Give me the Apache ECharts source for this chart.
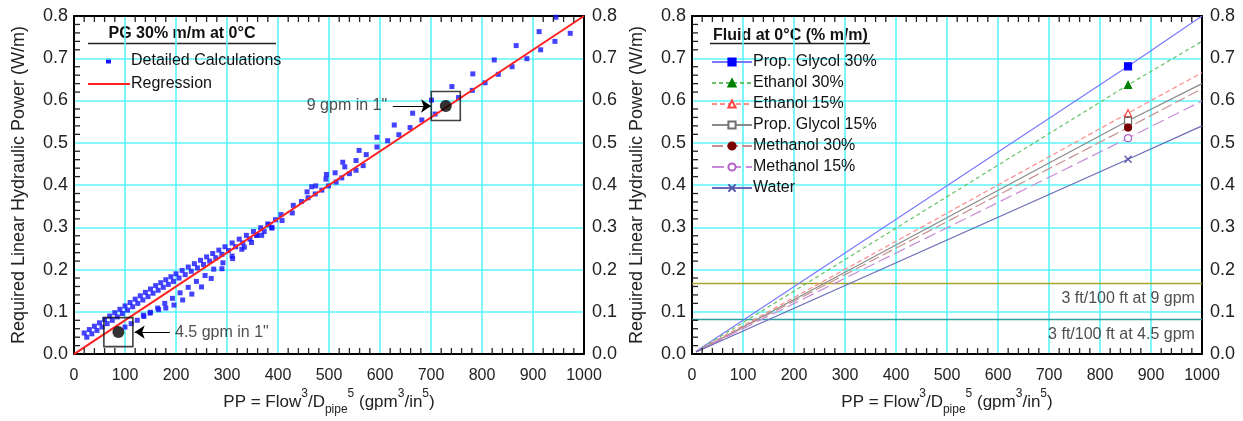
<!DOCTYPE html>
<html><head><meta charset="utf-8">
<script src="https://cdn.jsdelivr.net/npm/echarts@6/dist/echarts.min.js"></script>
<style>html,body{margin:0;padding:0;background:#fff}#c{width:1243px;height:421px}</style>
</head><body><div id="c"></div>
<script>
// ---------- DATA (left chart) ----------
const calcBandUpper = [[20,0.050],[30,0.058],[40,0.066],[50,0.074],[60,0.082],[70,0.090],[80,0.098],[90,0.106],[100,0.114],[110,0.122],[120,0.130],[130,0.138],[140,0.146],[150,0.154],[160,0.162],[170,0.169],[180,0.176],[190,0.183],[200,0.190],[212,0.198],[224,0.206],[236,0.214],[248,0.222],[260,0.230],[272,0.238],[284,0.246],[296,0.254],[310,0.263],[324,0.272],[338,0.281],[352,0.290],[366,0.299],[380,0.308],[395,0.318]];
const calcBandLower = [[25,0.040],[35,0.048],[45,0.056],[55,0.064],[65,0.072],[75,0.080],[85,0.088],[95,0.096],[105,0.104],[115,0.112],[125,0.120],[135,0.128],[145,0.136],[155,0.144],[165,0.151],[175,0.158],[185,0.165],[195,0.172],[206,0.180],[218,0.188],[230,0.196],[242,0.204],[254,0.212],[266,0.220],[278,0.228],[290,0.236],[303,0.245],[317,0.254],[331,0.263],[345,0.272],[359,0.281],[373,0.290],[388,0.300]];
const calcMid = [[100,0.064],[112,0.072],[124,0.080],[137,0.089],[150,0.099],[164,0.109],[178,0.120],[193,0.132],[208,0.145],[224,0.158],[240,0.172],[257,0.186],[274,0.201],[292,0.216],[310,0.232],[329,0.248],[348,0.264],[368,0.281],[388,0.298],[408,0.316],[428,0.334]];
const calcLow = [[136,0.092],[149,0.097],[166,0.105],[180,0.109],[196,0.116],[213,0.128],[231,0.142],[250,0.159],[269,0.179],[290,0.202],[311,0.226],[334,0.253],[358,0.281],[382,0.306],[406,0.330],[430,0.352]];
const calcHigh = [[446,0.361],[457,0.384],[459,0.370],[466,0.396],[474,0.398],[473,0.379],[486,0.388],[494,0.414],[495,0.425],[499,0.398],[512,0.429],[514,0.407],[525,0.417],[527,0.454],[531,0.443],[540,0.427],[553,0.458],[553,0.435],[559,0.482],[567,0.446],[573,0.472],[594,0.490],[594,0.513],[615,0.505],[628,0.542],[637,0.519],[659,0.536],[664,0.570],[682,0.554],[701,0.601],[708,0.568],[741,0.633],[754,0.607],[782,0.663],[781,0.624],[806,0.642],[824,0.696],[832,0.662],[859,0.680],[867,0.730],[888,0.699],[912,0.763],[915,0.720],[943,0.740],[945,0.797],[973,0.759]];
const regressionX = [0, 1000];
const regressionY = [0, 0.8];
const designPoints = [[87,0.052],[729,0.587]];
const designLabels = ['4.5 gpm in 1"', '9 gpm in 1"'];

// ---------- DATA (right chart) ----------
const fluidNames = ['Prop. Glycol 30%','Ethanol 30%','Ethanol 15%','Prop. Glycol 15%','Methanol 30%','Methanol 15%','Water'];
const fluidX = [8, 855, 1000];
const fluidStartY = [0.007,0.006,0.006,0.005,0.005,0.005,0.005];
const fluidMarkerY = [0.681,0.637,0.570,0.552,0.536,0.511,0.461];
const fluidEndY = [0.800,0.740,0.666,0.640,0.628,0.599,0.540];
const headLossY = [0.167, 0.082];
const headLossLabels = ['3 ft/100 ft at 9 gpm', '3 ft/100 ft at 4.5 gpm'];

// ---------- AXIS TICKS ----------
const xTickLabels = ['0','100','200','300','400','500','600','700','800','900','1000'];
const yTickLabels = ['0.0','0.1','0.2','0.3','0.4','0.5','0.6','0.7','0.8'];
const xMinorTicks = [20,40,60,80,120,140,160,180,220,240,260,280,320,340,360,380,420,440,460,480,520,540,560,580,620,640,660,680,720,740,760,780,820,840,860,880,920,940,960,980];
const yMinorTicks = [0.02,0.04,0.06,0.08,0.12,0.14,0.16,0.18,0.22,0.24,0.26,0.28,0.32,0.34,0.36,0.38,0.42,0.44,0.46,0.48,0.52,0.54,0.56,0.58,0.62,0.64,0.66,0.68,0.72,0.74,0.76,0.78];

// ---------- STYLE ----------
const FONT = '"Liberation Sans", Arial, sans-serif';
const GRIDC = '#5af4f8';
const fluidStyles = [
  {line:'#7a7aff', dash:'solid', sym:'rect', fill:'#0000ff', border:'#0000ff'},
  {line:'#66c266', dash:[4,3], sym:'triangle', fill:'#008000', border:'#008000'},
  {line:'#ff8a8a', dash:[5,3], sym:'triangle', fill:'#ffffff', border:'#ff4040'},
  {line:'#8a8a8a', dash:'solid', sym:'rect', fill:'#ffffff', border:'#707070'},
  {line:'#c98f8f', dash:[11,4], sym:'circle', fill:'#7a0000', border:'#7a0000'},
  {line:'#c88ad8', dash:[12,5], sym:'circle', fill:'#ffffff', border:'#b060c8'},
  {line:'#6a6ab8', dash:'solid', sym:'path://M0,0L10,10M10,0L0,10', fill:'rgba(0,0,0,0)', border:'#5050a8'}
];

const chart = echarts.init(document.getElementById('c'), null, {renderer:'canvas'});

const nameRich = {
  sup:{fontSize:12, verticalAlign:'top', lineHeight:28, fontFamily:FONT, color:'#222'},
  sub:{fontSize:12, verticalAlign:'bottom', lineHeight:28, fontFamily:FONT, color:'#222'}
};
const xName = 'PP = Flow{sup|3}/D{sub|pipe}{sup|5} (gpm{sup|3}/in{sup|5})';
const yName = 'Required Linear Hydraulic Power (W/m)';
const AXLINE = {show:true, onZero:false, lineStyle:{color:'#000', width:2}};

function mainX(g){
  return [{
    gridIndex:g, type:'value', min:0, max:1000, interval:100, position:'bottom',
    axisLine:AXLINE, axisTick:{show:false},
    axisLabel:{fontSize:16, color:'#222', fontFamily:FONT, margin:13, formatter:(v)=>xTickLabels[Math.round(v/100)]},
    splitLine:{show:true, lineStyle:{color:GRIDC, width:1.6}},
    name:xName, nameLocation:'middle', nameGap:33,
    nameTextStyle:{fontSize:17, color:'#222', fontFamily:FONT, lineHeight:28, rich:nameRich}
  },{
    gridIndex:g, type:'value', min:0, max:1000, interval:100, position:'top',
    axisLine:AXLINE, axisTick:{show:false}, axisLabel:{show:false}, splitLine:{show:false}
  }];
}
function mainY(g){
  return [{
    gridIndex:g, type:'value', min:0, max:0.8, interval:0.1, position:'left',
    axisLine:AXLINE, axisTick:{show:false},
    axisLabel:{fontSize:18, color:'#222', fontFamily:FONT, margin:6, formatter:(v)=>yTickLabels[Math.round(v*10)]},
    splitLine:{show:true, lineStyle:{color:GRIDC, width:1.6}},
    name:yName, nameLocation:'middle', nameGap:46, nameRotate:90,
    nameTextStyle:{fontSize:18, color:'#222', fontFamily:FONT}
  },{
    gridIndex:g, type:'value', min:0, max:0.8, interval:0.1, position:'right',
    axisLine:AXLINE, axisTick:{show:false},
    axisLabel:{fontSize:18, color:'#222', fontFamily:FONT, margin:8, formatter:(v)=>yTickLabels[Math.round(v*10)]},
    splitLine:{show:false}
  }];
}

// minor ticks drawn through the axes' scales
function tickSeries(xi, yi){
  const st = {stroke:'#222', lineWidth:1.3};
  return [{
    type:'custom', xAxisIndex:xi, yAxisIndex:yi, silent:true, z:10, clip:false,
    data:xMinorTicks.map(v=>[v]),
    encode:{x:0},
    renderItem:(params, api)=>{
      const v = api.value(0);
      const b = api.coord([v, 0]);
      const t = api.coord([v, 0.8]);
      return {type:'group', children:[
        {type:'line', shape:{x1:b[0], y1:b[1], x2:b[0], y2:b[1]-6}, style:st},
        {type:'line', shape:{x1:t[0], y1:t[1], x2:t[0], y2:t[1]+6}, style:st}
      ]};
    }
  },{
    type:'custom', xAxisIndex:xi, yAxisIndex:yi, silent:true, z:10, clip:false,
    data:yMinorTicks.map(v=>[0, v]),
    encode:{x:0, y:1},
    renderItem:(params, api)=>{
      const p = api.coord([0, api.value(1)]);
      return {type:'line', shape:{x1:p[0], y1:p[1], x2:p[0]+6, y2:p[1]}, style:st};
    }
  }];
}

const calcAll = [].concat(calcBandLower, calcBandUpper, calcMid, calcLow, calcHigh);

const series = [];
series.push({
  name:'Detailed Calculations', type:'scatter', xAxisIndex:0, yAxisIndex:0,
  data:calcAll, symbol:'rect', symbolSize:5, itemStyle:{color:'#1414ff'}, z:3
});
series.push({
  name:'Regression', type:'line', xAxisIndex:0, yAxisIndex:0,
  data:regressionX.map((x,i)=>[x, regressionY[i]]), symbol:'none',
  lineStyle:{color:'#ff2020', width:2}, itemStyle:{color:'#ff2020'}, z:4
});
// design boxes
series.push({
  type:'scatter', xAxisIndex:0, yAxisIndex:0, data:designPoints, symbol:'rect', symbolSize:29,
  itemStyle:{color:'rgba(0,0,0,0)', borderColor:'#111', borderWidth:1.6}, z:5, silent:true
});
series.push({
  type:'scatter', xAxisIndex:0, yAxisIndex:0, data:designPoints, symbol:'circle', symbolSize:12,
  itemStyle:{color:'#000'}, z:6, silent:true,
  markLine:{
    silent:true, symbol:['none','arrow'], symbolSize:10,
    lineStyle:{color:'#000', width:1, type:'solid'}, label:{show:false},
    data:[
      [{coord:[188, designPoints[0][1]]},{coord:[119, designPoints[0][1]]}],
      [{coord:[625, designPoints[1][1]]},{coord:[700, designPoints[1][1]]}]
    ]
  }
});
// design labels
series.push({
  type:'scatter', xAxisIndex:0, yAxisIndex:0, symbolSize:0, silent:true,
  data:[{value:[198, designPoints[0][1]], label:{position:'right'}}],
  label:{show:true, formatter:designLabels[0], fontSize:16, color:'#222', fontFamily:FONT, distance:0}
});
series.push({
  type:'scatter', xAxisIndex:0, yAxisIndex:0, symbolSize:0, silent:true,
  data:[{value:[614, designPoints[1][1]], label:{position:'left'}}],
  label:{show:true, formatter:designLabels[1], fontSize:16, color:'#222', fontFamily:FONT, distance:0}
});

// right chart fluids
fluidNames.forEach((n,i)=>{
  const s = fluidStyles[i];
  const ys = [fluidStartY[i], fluidMarkerY[i], fluidEndY[i]];
  series.push({
    name:n, type:'line', xAxisIndex:2, yAxisIndex:2,
    data:fluidX.map((x,k)=> k===1 ? {value:[x, ys[k]]} : {value:[x, ys[k]], symbol:'none'}),
    symbol:s.sym, symbolSize:7, showSymbol:true,
    lineStyle:{color:s.line, width:1.2, type:s.dash},
    itemStyle:{color:s.fill, borderColor:s.border, borderWidth:1.2},
    z:4
  });
});
// head loss lines
const hlColors = ['#a8a232','#2f9e9e'];
headLossY.forEach((y,i)=>{
  series.push({
    type:'line', xAxisIndex:2, yAxisIndex:2, data:[[0,y],[1000,y]], symbol:'none',
    lineStyle:{color:hlColors[i], width:1.6}, z:3, silent:true
  });
  series.push({
    type:'scatter', xAxisIndex:2, yAxisIndex:2, symbolSize:0, silent:true,
    data:[{value:[986, y-0.036], label:{position:'left'}}],
    label:{show:true, formatter:headLossLabels[i], fontSize:16, color:'#222', fontFamily:FONT, distance:0}
  });
});
series.push(...tickSeries(0,0), ...tickSeries(2,2));

const option = {
  backgroundColor:'#fff',
  animation:false,
  textStyle:{fontFamily:FONT},
  grid:[
    {left:74, top:16, width:510, height:341, containLabel:false},
    {left:692, top:16, width:510, height:341, containLabel:false}
  ],
  xAxis:[].concat(mainX(0), mainX(1)),
  yAxis:[].concat(mainY(0), mainY(1)),
  legend:[
    {data:[{name:'Detailed Calculations', itemStyle:{opacity:0}},{name:'Regression', itemStyle:{opacity:0}}],
     left:87, top:52, orient:'vertical', padding:0,
     itemWidth:42, itemHeight:6, itemGap:5, selectedMode:false,
     textStyle:{fontSize:16, color:'#111', fontFamily:FONT, lineHeight:18, padding:[0,0,0,-4]}},
    {data:fluidNames, left:711, top:53, orient:'vertical', padding:0,
     itemWidth:40, itemHeight:9, itemGap:3, selectedMode:false,
     textStyle:{fontSize:16, color:'#111', fontFamily:FONT, lineHeight:18, padding:[0,0,0,-4]}}
  ],
  graphic:[
    {type:'text', x:182, y:34, silent:true, style:{text:'PG 30% m/m at 0°C', font:'bold 16px "Liberation Sans", Arial, sans-serif', fill:'#111', textAlign:'center', textVerticalAlign:'middle'}},
    {type:'line', silent:true, shape:{x1:88, y1:43.5, x2:276, y2:43.5}, style:{stroke:'#222', lineWidth:1.5}},
    {type:'rect', silent:true, shape:{x:106, y:58.5, width:5, height:5}, style:{fill:'#1414ff'}},
    {type:'text', x:713, y:36, silent:true, style:{text:'Fluid at 0°C (% m/m)', font:'bold 16px "Liberation Sans", Arial, sans-serif', fill:'#111', textAlign:'left', textVerticalAlign:'middle'}},
    {type:'line', silent:true, shape:{x1:710, y1:43.5, x2:870, y2:43.5}, style:{stroke:'#222', lineWidth:1.5}}
  ],
  series:series
};
chart.setOption(option);
</script>
</body></html>
